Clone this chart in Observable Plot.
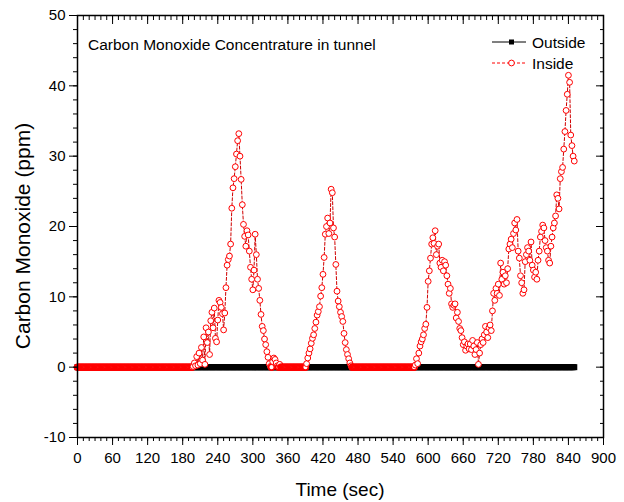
<!DOCTYPE html>
<html><head><meta charset="utf-8">
<script src="https://cdn.jsdelivr.net/npm/d3@7"></script>
<script src="https://cdn.jsdelivr.net/npm/@observablehq/plot@0.6"></script>
<style>
html,body{margin:0;padding:0;background:#fff;}
#chart{position:relative;width:624px;height:502px;}
svg{font-family:"Liberation Sans",Arial,sans-serif;}
</style></head><body><div id="chart"></div>
<script>
// sampling grid: one reading every 2 s, 0 .. 850 s
const timeSec = d3.range(0, 851, 2);

// Inside CO (ppm)
const insideCO = [
  // t 0-196
  0,0,0,0,0,0,0,0,0,0,0,
  0,0,0,0,0,0,0,0,0,0,0,
  0,0,0,0,0,0,0,0,0,0,0,
  0,0,0,0,0,0,0,0,0,0,0,
  0,0,0,0,0,0,0,0,0,0,0,
  0,0,0,0,0,0,0,0,0,0,0,
  0,0,0,0,0,0,0,0,0,0,0,
  0,0,0,0,0,0,0,0,0,0,0,
  0,0,0,0,0,0,0,0,0,0,0,
  // t 198-348
  0.1,0.6,0.2,1.5,0.3,2.0,0.5,2.8,1.0,4.3,
  0.4,5.6,3.5,5.0,1.8,6.6,7.8,5.6,8.4,4.1,
  3.6,6.7,9.5,9.2,8.5,7.6,5.3,7.7,11.3,14.5,
  15.3,15.8,17.5,22.6,25.5,26.8,28.5,30.3,32.2,33.2,
  30.0,26.7,23.1,20.3,18.6,17.2,19.4,18.8,16.5,14.2,
  12.5,11.0,13.8,18.9,16.0,12.5,11.2,9.5,7.5,5.8,
  5.2,4.0,3.2,2.2,1.4,0.5,0.1,0.0,0.8,1.3,
  1.1,0.6,0.2,0.0,0.4,0.0,
  // t 350-388
  0,0,0,0,0,0,0,0,0,0,0,0,0,0,0,0,0,0,0,0,
  // t 390-470
  0.0,0.5,1.3,2.0,2.6,3.4,4.1,4.6,5.5,6.4,
  7.4,7.9,8.6,10.1,11.3,13.2,15.6,18.9,20.0,21.2,
  19.0,20.5,25.3,24.8,19.8,18.5,14.6,10.8,9.4,8.6,
  7.8,7.2,6.5,4.8,3.5,2.5,1.8,1.2,0.6,0.2,
  0.0,
  // t 472-574
  0,0,0,0,0,0,0,0,0,0,0,0,0,0,0,0,0,0,0,0,
  0,0,0,0,0,0,0,0,0,0,0,0,0,0,0,0,0,0,0,0,
  0,0,0,0,0,0,0,0,0,0,0,0,
  // t 576-670
  0.0,0.3,1.2,0.5,2.0,3.0,3.6,4.0,4.6,5.5,
  6.1,8.5,12.2,13.7,15.5,17.5,18.4,17.6,19.4,16.0,
  17.2,17.5,14.8,14.2,15.2,13.7,15.0,14.5,13.0,11.8,
  10.5,11.2,9.0,8.5,8.8,9.0,7.0,7.8,6.5,5.5,
  5.2,4.2,3.2,3.6,2.4,3.0,3.3,2.6,
  // t 672-850
  3.3,2.5,3.8,3.0,1.8,2.5,3.5,0.4,2.0,3.2,
  4.0,3.5,4.6,5.8,5.0,4.2,5.6,6.0,5.2,8.0,
  10.5,9.5,11.2,10.5,11.8,10.2,14.8,12.5,13.5,11.8,
  13.0,12.0,14.0,16.8,17.5,18.2,17.0,19.0,20.5,19.5,
  21.0,16.5,15.5,13.0,12.0,10.5,11.0,15.0,16.0,17.0,
  16.5,15.2,17.8,14.5,13.8,12.8,13.5,12.5,15.2,16.5,
  18.5,19.3,20.2,19.8,18.0,17.0,16.5,15.2,14.8,17.2,
  18.5,19.8,20.5,21.5,24.5,24.0,22.5,26.8,27.8,28.4,
  31.0,33.5,36.5,38.8,41.5,40.5,33.0,31.5,30.0,29.3
];

// Outside CO (ppm): flat at zero throughout
const outsideCO = [
  0,0,0,0,0,0,0,0,0,0,0,0,0,0,0,0,0,0,0,0,
  0,0,0,0,0,0,0,0,0,0,0,0,0,0,0,0,0,0,0,0,
  0,0,0,0,0,0,0,0,0,0,0,0,0,0,0,0,0,0,0,0,
  0,0,0,0,0,0,0,0,0,0,0,0,0,0,0,0,0,0,0,0,
  0,0,0,0,0,0,0,0,0,0,0,0,0,0,0,0,0,0,0,0,
  0,0,0,0,0,0,0,0,0,0,0,0,0,0,0,0,0,0,0,0,
  0,0,0,0,0,0,0,0,0,0,0,0,0,0,0,0,0,0,0,0,
  0,0,0,0,0,0,0,0,0,0,0,0,0,0,0,0,0,0,0,0,
  0,0,0,0,0,0,0,0,0,0,0,0,0,0,0,0,0,0,0,0,
  0,0,0,0,0,0,0,0,0,0,0,0,0,0,0,0,0,0,0,0,
  0,0,0,0,0,0,0,0,0,0,0,0,0,0,0,0,0,0,0,0,
  0,0,0,0,0,0,0,0,0,0,0,0,0,0,0,0,0,0,0,0,
  0,0,0,0,0,0,0,0,0,0,0,0,0,0,0,0,0,0,0,0,
  0,0,0,0,0,0,0,0,0,0,0,0,0,0,0,0,0,0,0,0,
  0,0,0,0,0,0,0,0,0,0,0,0,0,0,0,0,0,0,0,0,
  0,0,0,0,0,0,0,0,0,0,0,0,0,0,0,0,0,0,0,0,
  0,0,0,0,0,0,0,0,0,0,0,0,0,0,0,0,0,0,0,0,
  0,0,0,0,0,0,0,0,0,0,0,0,0,0,0,0,0,0,0,0,
  0,0,0,0,0,0,0,0,0,0,0,0,0,0,0,0,0,0,0,0,
  0,0,0,0,0,0,0,0,0,0,0,0,0,0,0,0,0,0,0,0,
  0,0,0,0,0,0,0,0,0,0,0,0,0,0,0,0,0,0,0,0,
  0,0,0,0,0,0
];

const xTicks = [0,60,120,180,240,300,360,420,480,540,600,660,720,780,840,900];
const xMinorTicks = d3.range(0, 901, 10);
const yTicks = [-10,0,10,20,30,40,50];
const yMinorTicks = d3.range(-10, 51, 2);
const seriesNames = ["Outside", "Inside"];
const chartTitle = "Carbon Monoxide Concentrature in tunnel";
const xTitle = "Time (sec)";
const yTitle = "Carbon Monoxide (ppm)";

const outsideRows = timeSec.map((t, i) => ({t, v: outsideCO[i]}));
const insideRows = timeSec.map((t, i) => ({t, v: insideCO[i]}));

const RED = "#ff0000";
const FONT = "Liberation Sans, Arial, sans-serif";

const svg = Plot.plot({
  width: 624, height: 502,
  marginLeft: 77, marginRight: 21, marginTop: 15, marginBottom: 65,
  style: {fontFamily: FONT, fontSize: "15px", color: "#000", background: "#fff", overflow: "visible"},
  x: {domain: [0, 900]},
  y: {domain: [-10, 50]},
  marks: [
    Plot.line(outsideRows, {x: "t", y: "v", stroke: "#000", strokeWidth: 1}),
    Plot.dot(outsideRows, {x: "t", y: "v", symbol: "square", r: 3.4, fill: "#000", stroke: "none"}),
    Plot.line(insideRows, {x: "t", y: "v", stroke: "#d00000", strokeWidth: 1, strokeDasharray: "3,2"}),
    // overlapping markers on the zero baseline merge into a solid band, as in the original
    Plot.dot(insideRows, {x: "t", y: "v", r: 2.9, fill: "#fff", stroke: RED,
      strokeWidth: d => (d.v === 0 ? 1.7 : 1)}),
    Plot.frame({stroke: "#000", strokeWidth: 1.5}),
    Plot.axisX({anchor: "bottom", ticks: xTicks, tickSize: 8, tickPadding: 7, tickFormat: d => String(d), label: null, fontSize: 15}),
    Plot.axisX({anchor: "bottom", ticks: xMinorTicks, tickSize: 4, fill: "none", label: null}),
    Plot.axisX({anchor: "top", ticks: xTicks, tickSize: 8, dy: 8, fill: "none", label: null}),
    Plot.axisX({anchor: "top", ticks: xMinorTicks, tickSize: 4, dy: 4, fill: "none", label: null}),
    Plot.axisY({anchor: "left", ticks: yTicks, tickSize: 8, tickPadding: 4, tickFormat: d => String(d), label: null, fontSize: 15}),
    Plot.axisY({anchor: "left", ticks: yMinorTicks, tickSize: 4, fill: "none", label: null}),
    Plot.axisY({anchor: "right", ticks: yTicks, tickSize: 8, dx: -8, fill: "none", label: null}),
    Plot.axisY({anchor: "right", ticks: yMinorTicks, tickSize: 4, dx: -4, fill: "none", label: null})
  ]
});
document.getElementById("chart").appendChild(svg);

const s = d3.select(svg);
// axis titles
s.append("text").attr("x", 340).attr("y", 496).attr("text-anchor", "middle")
  .attr("font-family", FONT).attr("font-size", 19).attr("fill", "#000").text(xTitle);
s.append("text").attr("transform", "translate(30,236) rotate(-90)").attr("text-anchor", "middle")
  .attr("font-family", FONT).attr("font-size", 21).attr("fill", "#000").text(yTitle);
// inner title
s.append("text").attr("x", 88).attr("y", 50).attr("text-anchor", "start").attr("font-family", FONT)
  .attr("font-size", 15.5).attr("fill", "#000").text(chartTitle);
// legend
const lg = s.append("g").attr("text-anchor", "start");
lg.append("line").attr("x1", 492).attr("x2", 526).attr("y1", 42).attr("y2", 42).attr("stroke", "#000");
lg.append("rect").attr("x", 509).attr("y", 39.5).attr("width", 5).attr("height", 5).attr("fill", "#000");
lg.append("text").attr("x", 532).attr("y", 48).attr("text-anchor", "start").attr("font-family", FONT)
  .attr("font-size", 15.5).attr("fill", "#000").text(seriesNames[0]);
lg.append("line").attr("x1", 492).attr("x2", 526).attr("y1", 63).attr("y2", 63).attr("stroke", RED).attr("stroke-dasharray", "3,2");
lg.append("circle").attr("cx", 511.5).attr("cy", 63).attr("r", 2.9).attr("fill", "#fff").attr("stroke", RED);
lg.append("text").attr("x", 532).attr("y", 69).attr("text-anchor", "start").attr("font-family", FONT)
  .attr("font-size", 15.5).attr("fill", "#000").text(seriesNames[1]);
</script></body></html>
